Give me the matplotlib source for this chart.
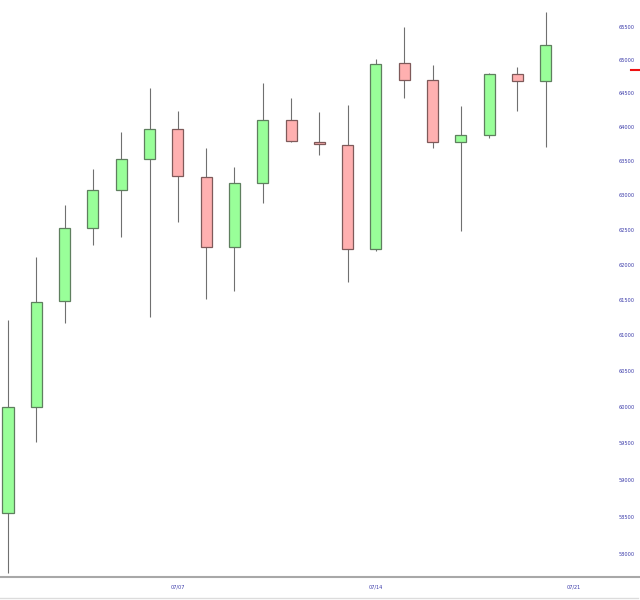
import matplotlib
matplotlib.use("Agg")
import matplotlib.pyplot as plt
import matplotlib.transforms as mtransforms
from matplotlib.ticker import FixedLocator, FixedFormatter, NullLocator
from matplotlib.lines import Line2D

# ---- data (daily candles, July) ----
days = [1, 2, 3, 4, 5, 6, 7, 8, 9, 10, 11, 12, 13, 14, 15, 16, 17, 18, 19, 20]
opens = [58555, 59996, 61481, 62533, 63075, 63537, 63978, 63273, 62251, 63180,
         64110, 63777, 63742, 62226, 64950, 64700, 63777, 63884, 64785, 64680]
highs = [61216, 62108, 62866, 63381, 63925, 64581, 64239, 63689, 63410, 64651,
         64428, 64225, 64324, 65014, 65491, 64919, 64313, 64805, 64894, 65718]
lows = [57742, 59522, 61170, 62280, 62403, 61262, 62611, 61509, 61631, 62891,
        63780, 63595, 61759, 62202, 64428, 63689, 62481, 63836, 64244, 63712]
closes = [60000, 61475, 62533, 63075, 63532, 63978, 63284, 62251, 63177, 64110,
          63792, 63748, 62226, 64939, 64700, 63777, 63884, 64785, 64680, 65220]

ytick_values = [58000, 58500, 59000, 59500, 60000, 60500, 61000, 61500, 62000,
                62500, 63000, 63500, 64000, 64500, 65000, 65500]
xtick_days = [7, 14, 21]
xtick_labels = ["07/07", "07/14", "07/21"]
marker_price = 64850

# ---- figure ----
fig = plt.figure(figsize=(6.4, 6.0), dpi=100)
ax = fig.add_axes([0, 0.0388, 1, 0.9612])
ax.set_yscale("log")

up_face, up_edge = "#99ff99", "#5f7f5f"
dn_face, dn_edge = "#ffb0b0", "#7f5a5a"

ax.vlines(days, lows, highs, colors="#707070", linewidth=0.8, zorder=1)
bottoms = [min(o, c) for o, c in zip(opens, closes)]
heights = [max(abs(c - o), 1.0) for o, c in zip(opens, closes)]
faces = [up_face if c >= o else dn_face for o, c in zip(opens, closes)]
edges = [up_edge if c >= o else dn_edge for o, c in zip(opens, closes)]
ax.bar(days, heights, bottom=bottoms, width=0.39, color=faces,
       edgecolor=edges, linewidth=0.9, zorder=2)

ax.set_xlim(0.717, 23.33)
ax.set_ylim(57697, 65905)

# y ticks inside, right-aligned at right side
ax.yaxis.set_major_locator(FixedLocator(ytick_values))
ax.yaxis.set_major_formatter(FixedFormatter([str(v) for v in ytick_values]))
ax.yaxis.set_minor_locator(NullLocator())
ax.yaxis.tick_right()
ax.tick_params(axis="y", length=0, pad=-3.6, labelsize=3.6, labelcolor="#3838a8")
for lbl in ax.get_yticklabels():
    lbl.set_horizontalalignment("right")

ax.xaxis.set_major_locator(FixedLocator(xtick_days))
ax.xaxis.set_major_formatter(FixedFormatter(xtick_labels))
ax.xaxis.set_minor_locator(NullLocator())
ax.tick_params(axis="x", length=0, pad=5.5, labelsize=3.6, labelcolor="#3838a8")

for s in ["top", "left", "right"]:
    ax.spines[s].set_visible(False)
ax.spines["bottom"].set_color("#a8a8a8")
ax.spines["bottom"].set_linewidth(1.5)

# red last-value marker at right edge
trans = mtransforms.blended_transform_factory(ax.transAxes, ax.transData)
ax.plot([0.986, 1.0], [marker_price, marker_price], transform=trans,
        color="#ee1111", linewidth=1.5, clip_on=False, zorder=3)

# light frame line at the bottom of the figure
fig.add_artist(Line2D([0, 0.997], [0.003, 0.003], transform=fig.transFigure,
                      color="#dcdcdc", linewidth=1.0))

fig.savefig("out.png", dpi=100)
